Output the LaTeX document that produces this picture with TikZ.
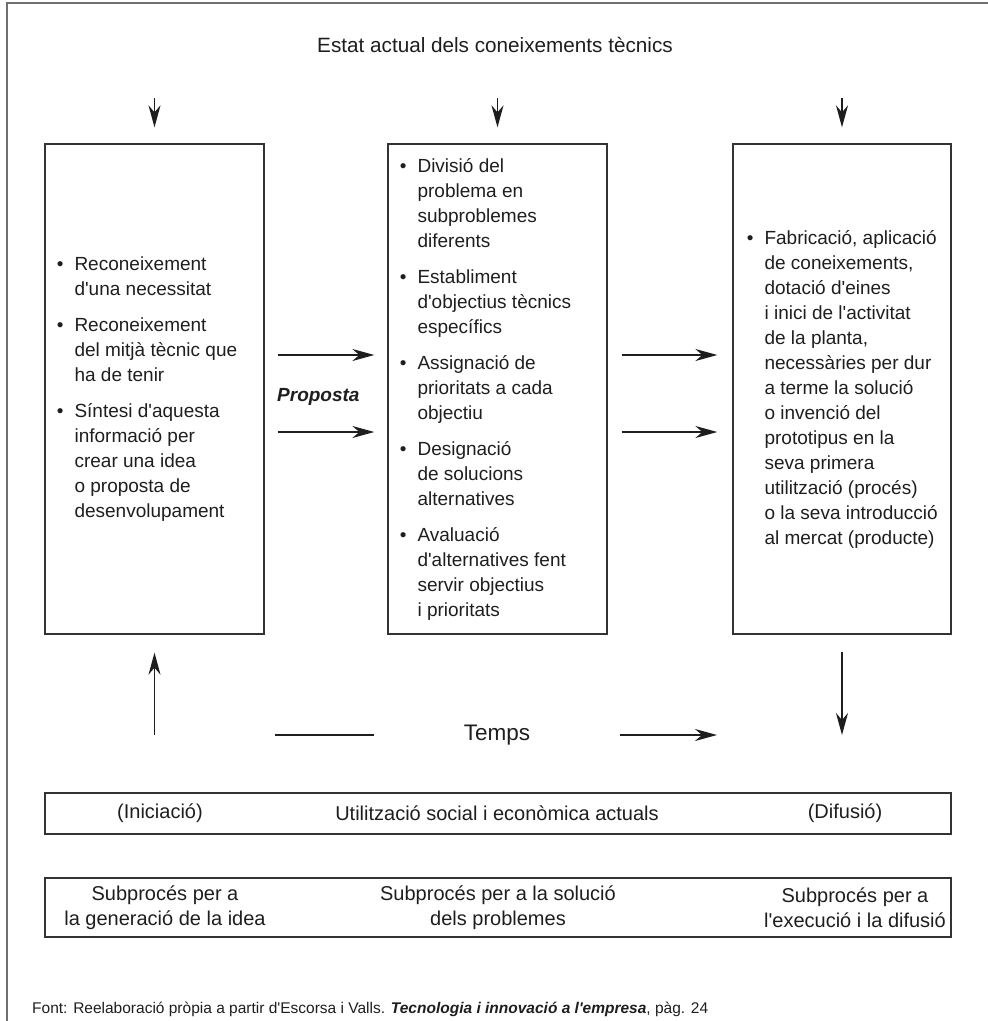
\documentclass[tikz,border=0pt]{standalone}
\usepackage{fontspec}
\setmainfont{Liberation Sans}[Ligatures=TeXOff]
\usetikzlibrary{arrows.meta}
\definecolor{ink}{HTML}{1E1E1E}
\definecolor{rulec}{HTML}{333333}
\definecolor{framec}{HTML}{707070}
% hanging bullet in front of the first line of an item
\newcommand\bul{\leavevmode\llap{\textbullet\hspace{11pt}}}

\begin{document}
\begin{tikzpicture}[x=1pt,y=-1pt,
  every node/.style={text=ink},
  stage/.style={draw=rulec, line width=1.3pt, minimum width=219pt,
    minimum height=490pt, inner sep=0pt},
  stagetext/.style={font=\fontsize{19}{25}\selectfont, align=left,
    anchor=west, inner sep=0pt},
  arr/.style={draw=ink, line width=1.6pt,
    -{Stealth[length=22pt,width=12pt,inset=7pt]}},
  band/.style={draw=rulec, line width=1.3pt, minimum width=906pt, inner sep=0pt},
  bandtext/.style={font=\fontsize{20}{25}\selectfont, align=center, inner sep=0pt},
]
\useasboundingbox (0,0) rectangle (988,1021);

% page frame (top and left rules)
\draw[framec, line width=1.3pt] (7,1021) -- (7,3) -- (988,3);

% heading
\node[font=\fontsize{20.7}{24}\selectfont] (title) at (495,45)
  {Estat actual dels coneixements tècnics};

% the three stages
\node[stage] (gen) at (154.5,389) {};
\node[stage] (sol) at (497.5,389) {};
\node[stage, minimum width=218pt] (exe) at (842,389) {};

\node[stagetext] (gentxt) at ([xshift=30pt]gen.west) {%
  \bul Reconeixement\\ d'una necessitat\\[11pt]
  \bul Reconeixement\\ del mitjà tècnic que\\ ha de tenir\\[11pt]
  \bul Síntesi d'aquesta\\ informació per\\ crear una idea\\ o proposta de\\ desenvolupament};

\node[stagetext] (soltxt) at ([xshift=30pt]sol.west) {%
  \bul Divisió del\\ problema en\\ subproblemes\\ diferents\\[11pt]
  \bul Establiment\\ d'objectius tècnics\\ específics\\[11pt]
  \bul Assignació de\\ prioritats a cada\\ objectiu\\[11pt]
  \bul Designació\\ de solucions\\ alternatives\\[11pt]
  \bul Avaluació\\ d'alternatives fent\\ servir objectius\\ i prioritats};

\node[stagetext] (exetxt) at ([xshift=32pt]exe.west) {%
  \bul Fabricació, aplicació\\ de coneixements,\\ dotació d'eines\\ i inici de l'activitat\\
  de la planta,\\ necessàries per dur\\ a terme la solució\\ o invenció del\\
  prototipus en la\\ seva primera\\ utilització (procés)\\ o la seva introducció\\
  al mercat (producte)};

% inputs from the state of technical knowledge
\coordinate (in1) at (154.5,98);
\coordinate (in2) at (497.5,98);
\coordinate (in3) at (842,98);
\draw[arr, shorten >=16pt] (in1) -- (gen.north);
\draw[arr, shorten >=16pt] (in2) -- (sol.north);
\draw[arr, shorten >=16pt] (in3) -- (exe.north);

% flow between stages
\coordinate (ra) at (0,355);
\coordinate (rb) at (0,432);
\draw[arr, shorten <=13pt, shorten >=13pt] (gen.east |- ra) -- (sol.west |- ra);
\draw[arr, shorten <=13pt, shorten >=13pt] (gen.east |- rb) -- (sol.west |- rb);
\draw[arr, shorten <=14pt, shorten >=15pt] (sol.east |- ra) -- (exe.west |- ra);
\draw[arr, shorten <=14pt, shorten >=15pt] (sol.east |- rb) -- (exe.west |- rb);
\node[anchor=west, font=\bfseries\itshape\fontsize{19}{23}\selectfont, inner sep=0pt]
  (prop) at (277,397) {Proposta};

% time axis
\coordinate (up0) at (154.5,735);
\coordinate (dn1) at (842,735);
\draw[arr, line width=1.4pt, shorten >=18pt] (up0) -- (gen.south);
\draw[arr, shorten <=17pt] (exe.south) -- (dn1);
\node[font=\fontsize{22.5}{26}\selectfont, inner sep=0pt] (temps) at (497,735) {Temps};
\coordinate (tA) at (275,735);
\coordinate (tB) at (374,735);
\coordinate (tC) at (620,735);
\coordinate (tD) at (717,735);
\draw[ink, line width=1.6pt] (tA) -- (tB);
\draw[arr] (tC) -- (tD);

% social and economic use
\node[band, minimum height=41pt] (use) at (498,813.5) {};
\node[bandtext] (ini) at (160,813.5) {(Iniciació)};
\node[bandtext] (usetxt) at (497,813.5) {Utilització social i econòmica actuals};
\node[bandtext] (dif) at (845,813.5) {(Difusió)};

% subprocesses
\node[band, minimum height=59pt] (sub) at (498,907.5) {};
\node[bandtext] (sub1) at (165,907.5) {Subprocés per a\\la generació de la idea};
\node[bandtext] (sub2) at (498,907.5) {Subprocés per a la solució\\dels problemes};
\node[bandtext] (sub3) at (855,907.5) {Subprocés per a\\l'execució i la difusió};

% source
\node[anchor=west, font=\fontsize{15.5}{18}\selectfont, inner sep=0pt] (src) at (32,1009)
  {Font: Reelaboració pròpia a partir d'Escorsa i Valls. \textbf{\textit{Tecnologia i innovació a l'empresa}}, pàg. 24};
\end{tikzpicture}
\end{document}
